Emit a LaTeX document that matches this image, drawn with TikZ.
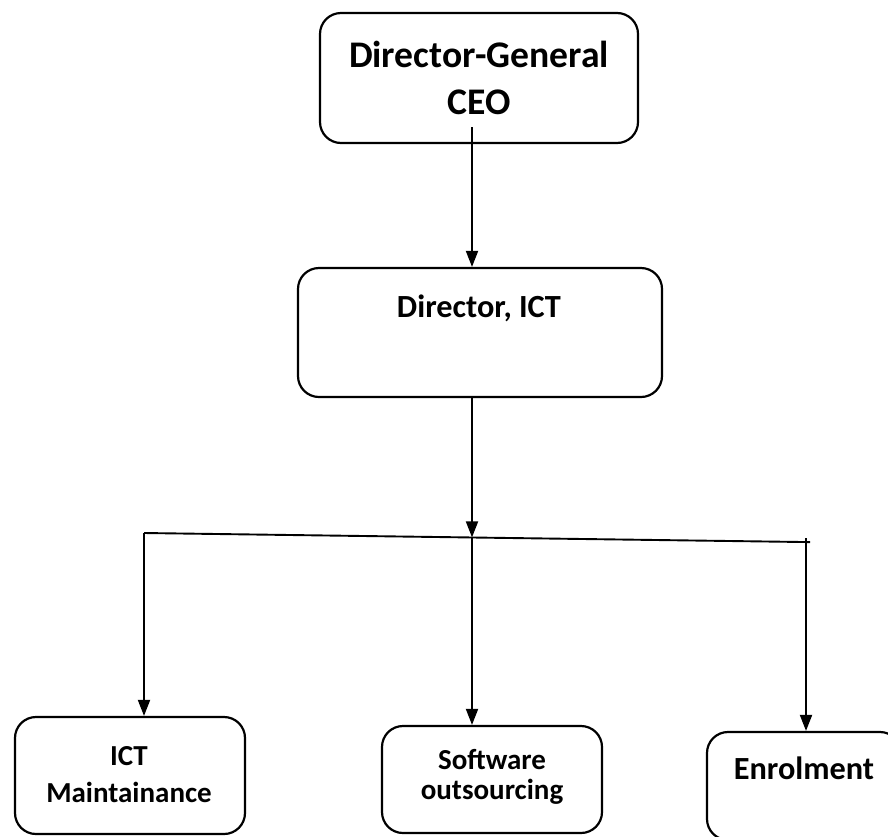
\documentclass[tikz,border=0pt]{standalone}
\usepackage{fontspec}
\setmainfont{Carlito}
\usetikzlibrary{arrows.meta}
\begin{document}
\begin{tikzpicture}[x=1pt,y=1pt,
  box/.style={draw, line width=2.2pt, rounded corners=21pt, inner sep=0pt},
  conn/.style={line width=1.9pt},
  arr/.style={conn, -{Triangle[width=12pt,length=16pt]}},
  lbl/.style={font=\bfseries\fontsize{29}{37}\selectfont, align=center, inner sep=0pt},
  mid/.style={font=\bfseries\fontsize{32.3}{38}\selectfont, align=center, inner sep=0pt},
  big/.style={font=\bfseries\fontsize{37.6}{47}\selectfont, align=center, inner sep=0pt}]
\clip (0,0) rectangle (888,-836);
% boxes
\node[box, minimum width=318pt, minimum height=130pt] (dg) at (479,-78) {};
\node[big] (dgl) at (479,-78) {Director-General\\CEO};
\node[box, minimum width=364pt, minimum height=129pt] (dict) at (480,-332.5) {};
\node[mid, anchor=base] (dictl) at (479,-317) {Director, ICT};
\node[box, minimum width=230pt, minimum height=117pt] (b1) at (130,-775.5) {};
\node[lbl] (b1l) at (129,-775) {ICT\\Maintainance};
\node[box, minimum width=220pt, minimum height=107pt] (b2) at (492,-779.5) {};
\node[lbl, font=\bfseries\fontsize{29}{30}\selectfont] (b2l) at (492,-777) {Software\\outsourcing};
\node[box, minimum width=194pt, minimum height=108pt] (b3) at (804,-786) {};
\node[mid, anchor=base] (b3l) at (804,-779) {Enrolment};
% connectors
\coordinate (dgout) at (472,-127);
\draw[arr] (dgout) -- (dgout |- dict.north);
\coordinate (jm) at (472,-537.4);
\draw[arr] (dgout |- dict.south) -- (jm);
\coordinate (jl) at (144,-533);
\coordinate (jr) at (810,-542.1);
\draw[conn] (jl) -- (jr);
\coordinate (jrt) at (806,-538);
\draw[arr] (jl) -- (jl |- b1.north);
\draw[arr] (jm) -- (jm |- b2.north);
\draw[arr] (jrt) -- (jrt |- b3.north);
\end{tikzpicture}
\end{document}
